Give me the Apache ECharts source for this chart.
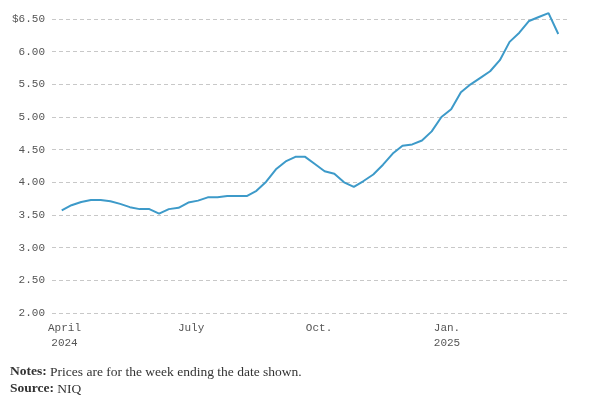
<!DOCTYPE html>
<html>
<head>
<meta charset="utf-8">
<script src="https://cdn.jsdelivr.net/npm/echarts@6/dist/echarts.min.js"></script>
<style>html,body{margin:0;padding:0;background:#fff;}#c{width:603px;height:396px;}</style>
</head>
<body>
<div id="c"></div>
<script>
// Week-ending dates
var weekDates = [
  '2024-03-30','2024-04-06','2024-04-13','2024-04-20','2024-04-27',
  '2024-05-04','2024-05-11','2024-05-18','2024-05-25',
  '2024-06-01','2024-06-08','2024-06-15','2024-06-22','2024-06-29',
  '2024-07-06','2024-07-13','2024-07-20','2024-07-27',
  '2024-08-03','2024-08-10','2024-08-17','2024-08-24','2024-08-31',
  '2024-09-07','2024-09-14','2024-09-21','2024-09-28',
  '2024-10-05','2024-10-12','2024-10-19','2024-10-26',
  '2024-11-02','2024-11-09','2024-11-16','2024-11-23','2024-11-30',
  '2024-12-07','2024-12-14','2024-12-21','2024-12-28',
  '2025-01-04','2025-01-11','2025-01-18','2025-01-25',
  '2025-02-01','2025-02-08','2025-02-15','2025-02-22',
  '2025-03-01','2025-03-08','2025-03-15','2025-03-22'
];
// Average price of a dozen eggs (USD)
var prices = [
  3.57, 3.65, 3.70, 3.73, 3.73,
  3.71, 3.67, 3.62, 3.59,
  3.59, 3.52, 3.59, 3.61, 3.69,
  3.72, 3.77, 3.77, 3.79,
  3.79, 3.79, 3.87, 4.01, 4.20,
  4.32, 4.39, 4.39, 4.28,
  4.17, 4.13, 4.00, 3.93,
  4.02, 4.12, 4.27, 4.44, 4.56,
  4.58, 4.64, 4.78, 5.00,
  5.12, 5.38, 5.50, 5.60,
  5.70, 5.87, 6.15, 6.29,
  6.47, 6.53, 6.59, 6.27
];
var xTickDates = ['2024-04-01','2024-07-01','2024-10-01','2025-01-01'];
var xTickLabels = ['April\n2024','July','Oct.','Jan.\n2025'];
var yTicks = [2.00, 2.50, 3.00, 3.50, 4.00, 4.50, 5.00, 5.50, 6.00, 6.50];
var yTickLabels = ['2.00','2.50','3.00','3.50','4.00','4.50','5.00','5.50','6.00','$6.50'];
var noteText = 'Prices are for the week ending the date shown.';
var sourceText = 'NIQ';

var ts = function (s) { return +echarts.time.parse(s); };
var xTickTs = xTickDates.map(ts);

var footRich = {
  b: {fontWeight: 'bold', fontFamily: 'Liberation Serif', fontSize: 13.5, fill: '#333', lineHeight: 17, verticalAlign: 'middle'},
  n: {fontWeight: 'normal', fontFamily: 'Liberation Serif', fontSize: 13.5, fill: '#333', lineHeight: 17, verticalAlign: 'middle'}
};

var chart = echarts.init(document.getElementById('c'), null, {renderer: 'canvas'});
chart.setOption({
  animation: false,
  grid: {left: 52, right: 35, top: 19, bottom: 83, containLabel: false},
  xAxis: {
    type: 'value',
    min: ts('2024-03-23'),
    max: ts('2025-03-29'),
    axisLine: {show: false},
    axisTick: {show: false},
    splitLine: {show: false},
    axisLabel: {
      customValues: xTickTs,
      showMinLabel: true,
      showMaxLabel: true,
      margin: 8,
      color: '#555',
      fontFamily: 'Liberation Mono',
      fontSize: 11,
      lineHeight: 15,
      formatter: function (v) {
        var i = xTickTs.indexOf(v);
        return i >= 0 ? xTickLabels[i] : '';
      }
    }
  },
  yAxis: {
    type: 'value',
    min: yTicks[0],
    max: yTicks[yTicks.length - 1],
    interval: 0.5,
    axisLine: {show: false},
    axisTick: {show: false},
    splitLine: {show: true, lineStyle: {color: '#c8c8c8', type: [4, 3], width: 1}},
    axisLabel: {
      margin: 7,
      color: '#555',
      fontFamily: 'Liberation Mono',
      fontSize: 11,
      formatter: function (v) {
        for (var i = 0; i < yTicks.length; i++) {
          if (Math.abs(yTicks[i] - v) < 1e-6) return yTickLabels[i];
        }
        return '';
      }
    }
  },
  series: [{
    type: 'line',
    clip: false,
    data: weekDates.map(function (d, i) { return [ts(d), prices[i]]; }),
    showSymbol: false,
    symbol: 'none',
    lineStyle: {color: '#3d9ac9', width: 2},
    itemStyle: {color: '#3d9ac9'}
  }],
  graphic: [
    {
      type: 'text', left: 10, top: 365,
      style: {
        text: '{b|Notes:}{n| ' + noteText + '}',
        rich: footRich
      }
    },
    {
      type: 'text', left: 10, top: 382,
      style: {
        text: '{b|Source:}{n| ' + sourceText + '}',
        rich: footRich
      }
    }
  ]
});
</script>
</body>
</html>
